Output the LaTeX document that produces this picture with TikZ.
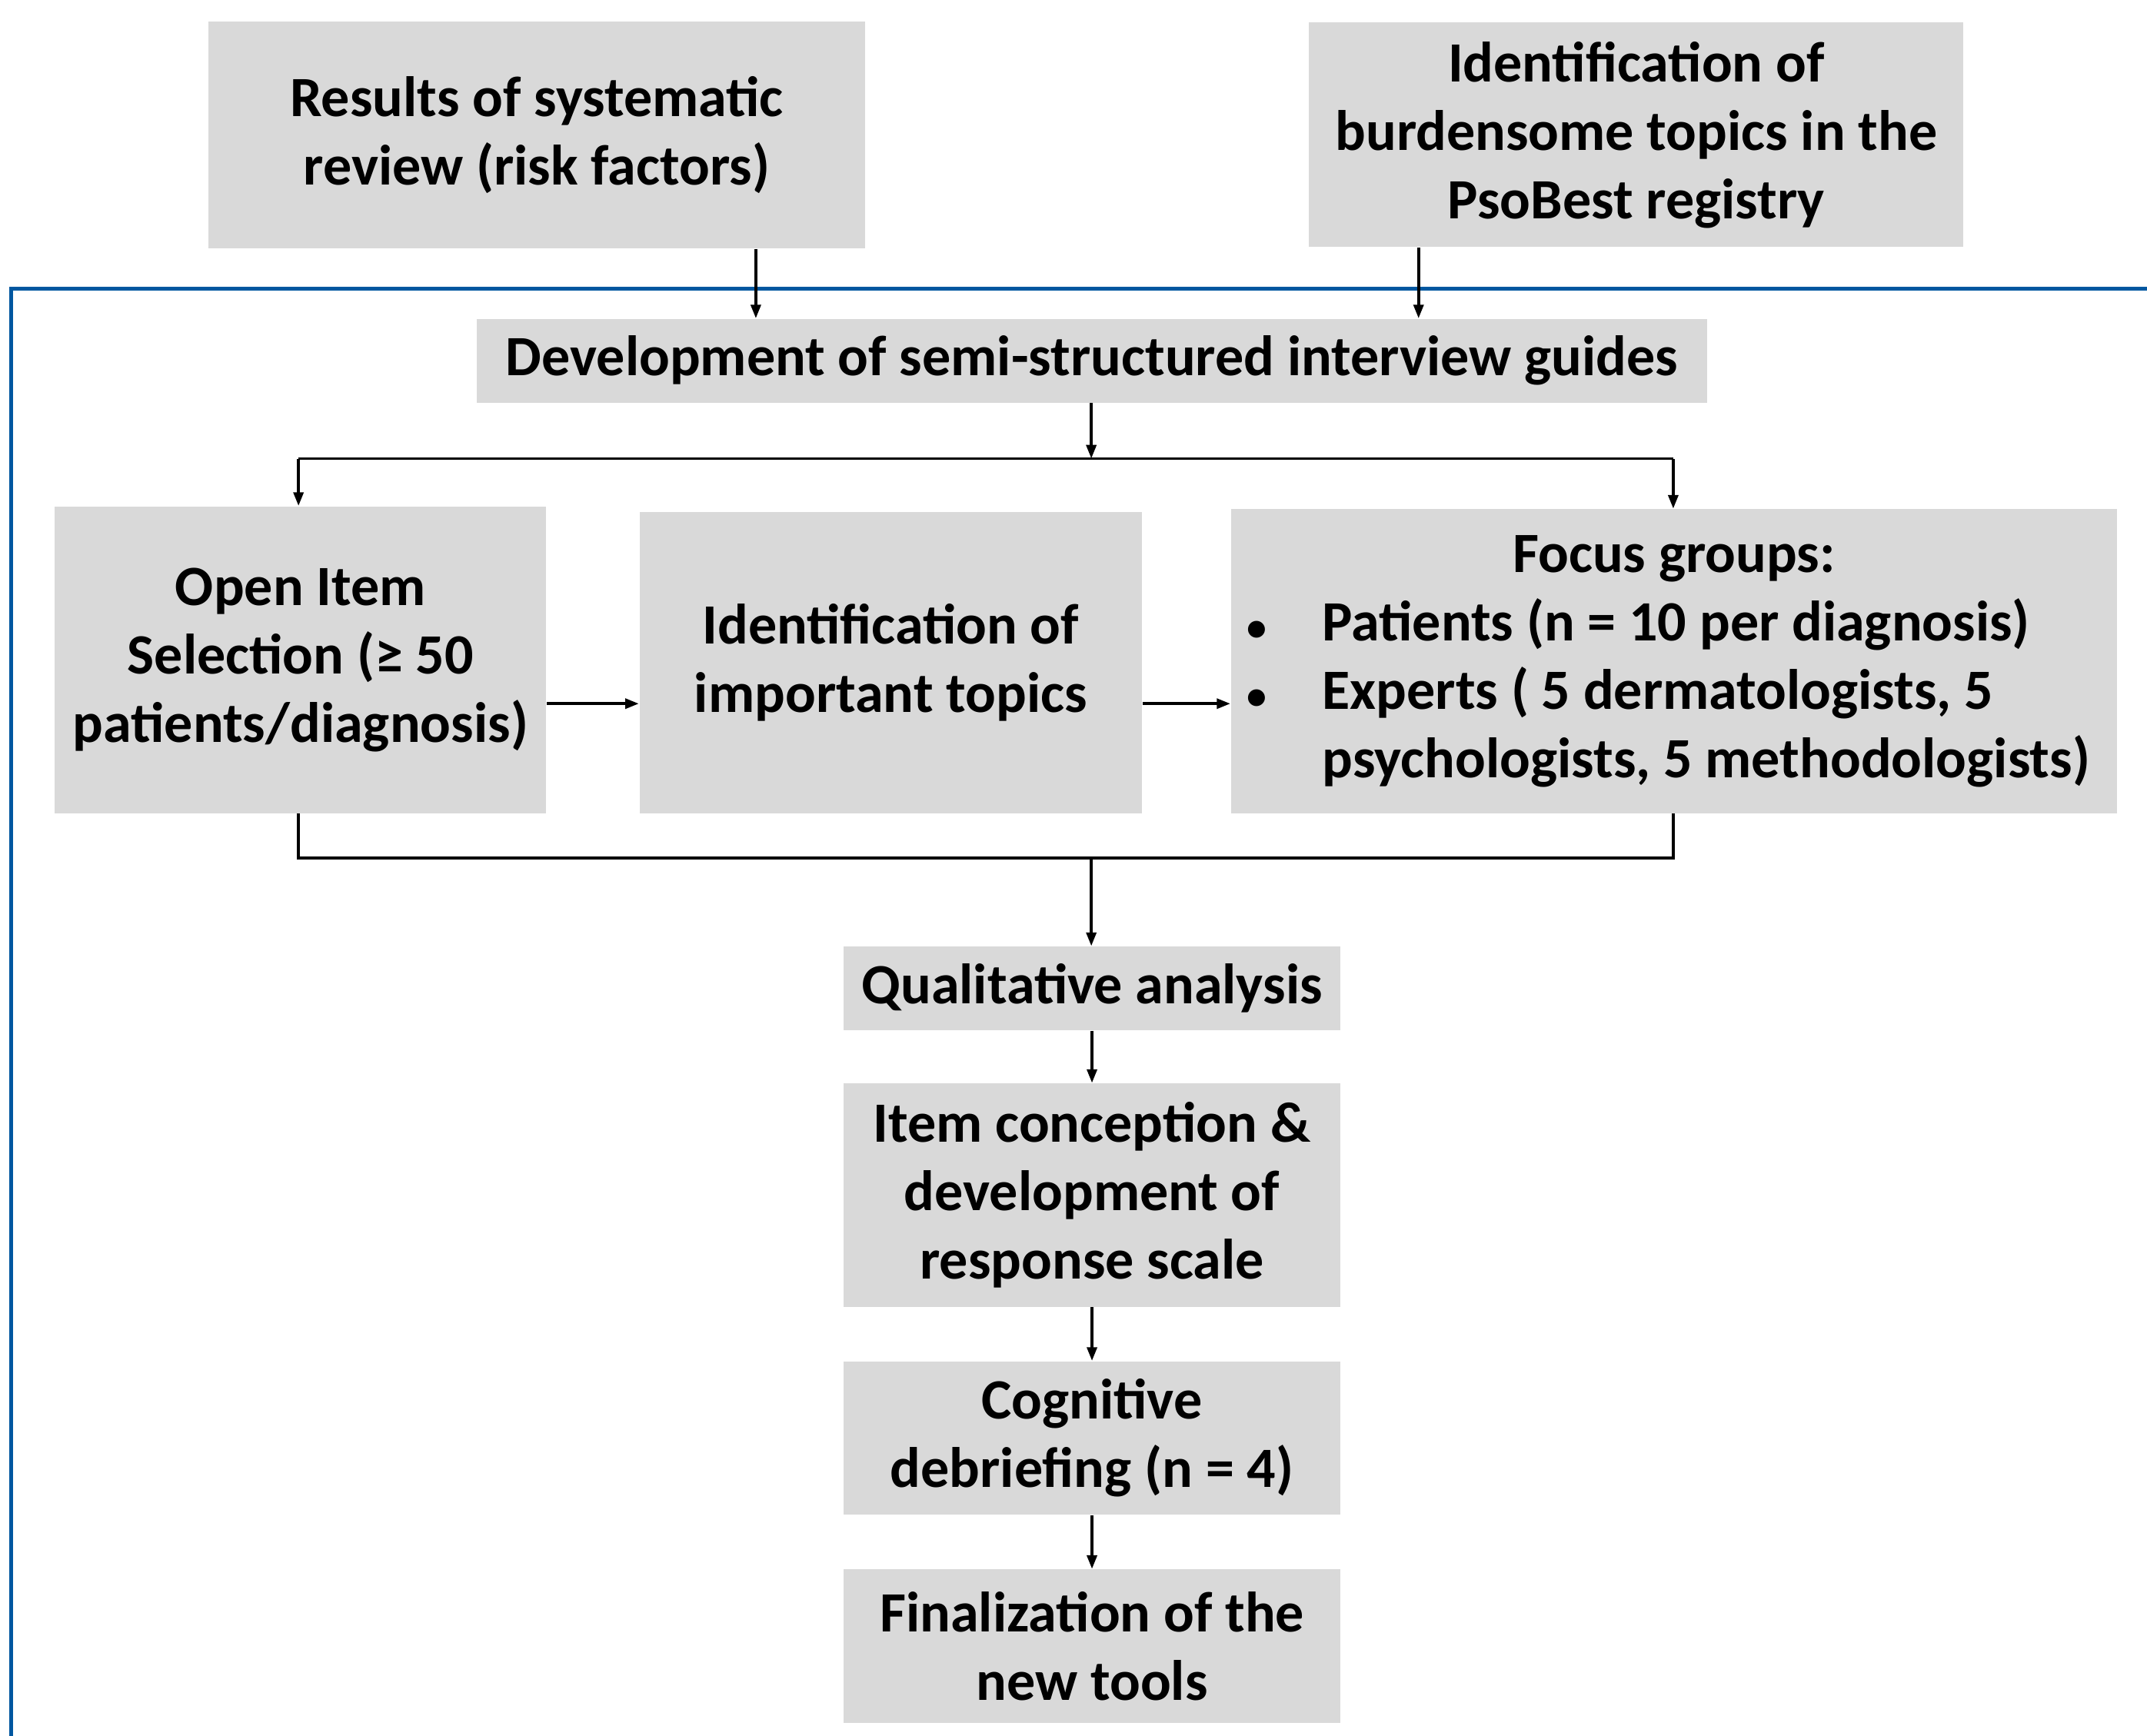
\documentclass[tikz,border=0pt]{standalone}
\usepackage{fontspec}
\setmainfont{Carlito}
\usetikzlibrary{arrows.meta}
\definecolor{boxgray}{HTML}{D9D9D9}
\definecolor{frameblue}{HTML}{0057A0}
\newcommand{\smbullet}{\hspace*{-4pt}\scalebox{0.7}{•}}
\begin{document}
\begin{tikzpicture}[x=0.5pt,y=-0.5pt,
  box/.style={fill=boxgray, inner sep=0pt, align=center,
    font=\fontsize{20.8}{25}\selectfont\bfseries},
  conn/.style={line width=1.1pt, draw=black},
  arr/.style={conn, -{Triangle[length=5pt,width=3.6pt]}},
  frame/.style={draw=frameblue, line width=1.5pt}]
\useasboundingbox (0,0) rectangle (1568,1268);

\node[box, minimum width=240pt, minimum height=83pt] (res) at (392,98.5)
  {Results of systematic\\review (risk factors)};
\node[box, minimum width=239pt, minimum height=82pt] (burd) at (1195,98.5)
  {Identification of\\burdensome topics in the\\PsoBest registry};
\node[box, minimum width=449.5pt, minimum height=30.5pt] (dev) at (797.5,263.5)
  {Development of semi-structured interview guides};
\node[box, minimum width=179.5pt, minimum height=112pt] (open) at (219.5,482)
  {Open Item\\Selection (≥ 50\\patients/diagnosis)};
\node[box, minimum width=183.5pt, minimum height=110pt] (ident) at (650.5,484)
  {Identification of\\important topics};
\node[box, minimum width=323.5pt, minimum height=111pt] (focus) at (1222.5,483)
  {\renewcommand\arraystretch{1}%
   \begin{tabular}{@{}p{23.5pt}@{}l@{}}
   \multicolumn{2}{@{}c@{}}{Focus groups:}\\
   \smbullet&Patients (n = 10 per diagnosis)\\
   \smbullet&Experts ( 5 dermatologists, 5\\
   &psychologists, 5 methodologists)
   \end{tabular}};
\node[box, minimum width=181.5pt, minimum height=30.5pt] (qual) at (797.5,722)
  {Qualitative analysis};
\node[box, minimum width=181.5pt, minimum height=81.5pt] (item) at (797.5,873)
  {Item conception \&\\development of\\response scale};
\node[box, minimum width=181.5pt, minimum height=56pt] (cog) at (797.5,1050.5)
  {Cognitive\\debriefing (n = 4)};
\node[box, minimum width=181.5pt, minimum height=56pt] (fin) at (797.5,1202.5)
  {Finalization of the\\new tools};

% blue frame
\coordinate (fr1) at (1568,211);
\coordinate (fr2) at (8,211);
\coordinate (fr3) at (8,1268);
\draw[frame] (fr1) -- (fr2) -- (fr3);

% helper coordinates
\coordinate (ax1) at (552,0);
\coordinate (ax2) at (1036,0);
\coordinate (jm) at (797,335);
\coordinate (jl) at (218,335);
\coordinate (jr) at (1222,335);
\coordinate (h1) at (0,514);
\coordinate (bl) at (218,627);
\coordinate (br) at (1222,627);
\coordinate (bm) at (797,627);

\draw[arr] (res.south -| ax1) -- (dev.north -| ax1);
\draw[arr] (burd.south -| ax2) -- (dev.north -| ax2);
\draw[arr] (dev.south -| jm) -- (jm);
\draw[conn] (jl) -- (jr);
\draw[arr] (jl) -- (open.north -| jl);
\draw[arr] (jr) -- (focus.north -| jr);
\draw[arr] (open.east |- h1) -- (ident.west |- h1);
\draw[arr] (ident.east |- h1) -- (focus.west |- h1);
\draw[conn] (open.south -| bl) -- (bl) -- (br) -- (focus.south -| br);
\draw[arr] (bm) -- (qual.north -| bm);
\draw[arr] (qual.south) -- (item.north);
\draw[arr] (item.south) -- (cog.north);
\draw[arr] (cog.south) -- (fin.north);
\end{tikzpicture}
\end{document}
